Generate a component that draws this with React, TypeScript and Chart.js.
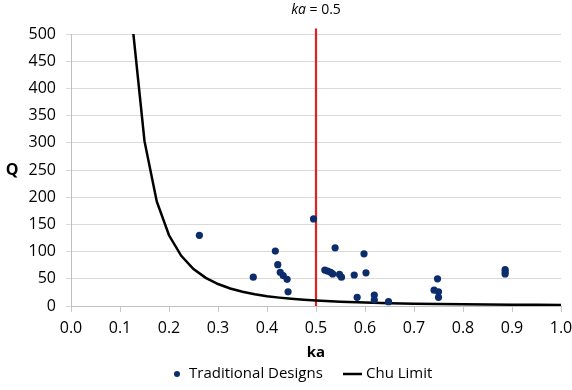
import { useEffect, useRef } from "react";
import { Chart, registerables } from "chart.js";

Chart.register(...registerables);

// Measured designs: electrical size ka and quality factor Q
const designKa = [0.262, 0.372, 0.417, 0.422, 0.427, 0.433, 0.441, 0.443, 0.495, 0.518, 0.524, 0.530, 0.534, 0.539, 0.548, 0.552, 0.578, 0.584, 0.598, 0.602, 0.619, 0.619, 0.648, 0.741, 0.748, 0.750, 0.750, 0.886, 0.886, 0.886];
const designQ = [130, 53, 101, 76, 62, 56, 49, 26, 160, 66, 64, 62, 59, 107, 58, 53, 57, 16, 96, 61, 20, 11, 8, 29, 50, 26, 16, 67, 63, 59];

// Chu lower bound on Q
const chuKa = [0.125, 0.15, 0.175, 0.2, 0.225, 0.25, 0.275, 0.3, 0.325, 0.35, 0.375, 0.4, 0.425, 0.45, 0.475, 0.5, 0.55, 0.6, 0.65, 0.7, 0.75, 0.8, 0.85, 0.9, 0.95, 1.0];
const chuQ = [520, 303, 192.3, 130, 92.2, 68, 51.7, 40.4, 32.2, 26.2, 21.6, 18.1, 15.4, 13.2, 11.4, 10, 7.8, 6.3, 5.2, 4.3, 3.7, 3.2, 2.8, 2.5, 2.2, 2];

// Vertical marker at ka = 0.5
const markerKa = [0.5, 0.5];
const markerQ = [0, 510];

const seriesNames = ["Traditional Designs", "Chu Limit"];
const xAxisTitle = "ka";
const yAxisTitle = "Q";

const FONT = "'Open Sans', 'Noto Sans', sans-serif";
const DOT = "#0d2c6c";
const RED = "#e3201f";

const pairs = (xs: number[], ys: number[]) => xs.map((x, i) => ({ x, y: ys[i] }));

const overlay = {
  id: "overlay",
  afterDraw(chart: any) {
    const { ctx, chartArea } = chart;
    const cx = (chartArea.left + chartArea.right) / 2;
    ctx.save();
    ctx.fillStyle = "#000";
    ctx.textBaseline = "middle";

    // heading: italic "ka" followed by " = 0.5"
    ctx.font = `italic 14px ${FONT}`;
    const a = "ka";
    const wa = ctx.measureText(a).width;
    ctx.font = `14px ${FONT}`;
    const b = " = 0.5";
    const wb = ctx.measureText(b).width;
    const x0 = cx - (wa + wb) / 2;
    ctx.textAlign = "left";
    ctx.font = `italic 14px ${FONT}`;
    ctx.fillText(a, x0, 10);
    ctx.font = `14px ${FONT}`;
    ctx.fillText(b, x0 + wa, 10);

    // y axis title, horizontal
    ctx.font = `bold 16px ${FONT}`;
    ctx.textAlign = "center";
    ctx.fillText(yAxisTitle, 12, (chartArea.top + chartArea.bottom) / 2);

    // legend
    const ly = 374;
    ctx.font = `15px ${FONT}`;
    ctx.textAlign = "left";
    ctx.fillStyle = DOT;
    ctx.beginPath();
    ctx.arc(177, ly, 3, 0, Math.PI * 2);
    ctx.fill();
    ctx.fillStyle = "#000";
    ctx.fillText(seriesNames[0], 189, ly);
    ctx.strokeStyle = "#000";
    ctx.lineWidth = 2.5;
    ctx.beginPath();
    ctx.moveTo(343, ly);
    ctx.lineTo(362, ly);
    ctx.stroke();
    ctx.fillText(seriesNames[1], 366, ly);
    ctx.restore();
  },
};

export default function App() {
  const ref = useRef<HTMLCanvasElement | null>(null);

  useEffect(() => {
    if (!ref.current) return;
    const chart = new Chart(ref.current, {
      type: "scatter",
      data: {
        datasets: [
          {
            label: seriesNames[0],
            data: pairs(designKa, designQ),
            backgroundColor: DOT,
            borderWidth: 0,
            pointRadius: 3.6,
            order: 0,
          },
          {
            label: seriesNames[1],
            data: pairs(chuKa, chuQ),
            showLine: true,
            borderColor: "#000",
            borderWidth: 2.5,
            pointRadius: 0,
            tension: 0,
            order: 1,
          },
          {
            label: "ka = 0.5",
            data: pairs(markerKa, markerQ),
            showLine: true,
            borderColor: RED,
            borderWidth: 2.2,
            pointRadius: 0,
            clip: false as any,
            order: 2,
          },
        ],
      },
      options: {
        responsive: false,
        animation: false,
        layout: { padding: { top: 34, right: 11, bottom: 28, left: 0 } },
        plugins: {
          legend: { display: false },
          title: { display: false },
          tooltip: { enabled: false },
        },
        scales: {
          x: {
            type: "linear",
            min: 0,
            max: 1,
            afterFit: (s: any) => {
              s.height = 56;
              s.paddingLeft = 0;
              s.paddingRight = 0;
            },
            ticks: {
              stepSize: 0.1,
              color: "#000",
              padding: 7,
              font: { family: FONT, size: 16 },
              callback: (v: any) => Number(v).toFixed(1),
            },
            grid: {
              drawOnChartArea: false,
              drawTicks: true,
              tickLength: 6,
              color: "#c8c8c8",
            },
            border: { color: "#bfbfbf" },
            title: {
              display: true,
              text: xAxisTitle,
              color: "#000",
              padding: { top: 4, bottom: 0 },
              font: { family: FONT, size: 15, weight: "bold" },
            },
          },
          y: {
            min: 0,
            max: 500,
            afterFit: (s: any) => {
              s.width = 71;
            },
            ticks: {
              stepSize: 50,
              color: "#000",
              padding: 10,
              font: { family: FONT, size: 16 },
            },
            grid: { color: "#d9d9d9", tickLength: 5 },
            border: { color: "#bfbfbf" },
          },
        },
      },
      plugins: [overlay],
    });
    return () => chart.destroy();
  }, []);

  return (
    <div style={{ position: "fixed", left: 0, top: 0, width: 572, height: 390, background: "#fff" }}>
      <canvas ref={ref} width={572} height={390} style={{ display: "block" }} />
    </div>
  );
}
